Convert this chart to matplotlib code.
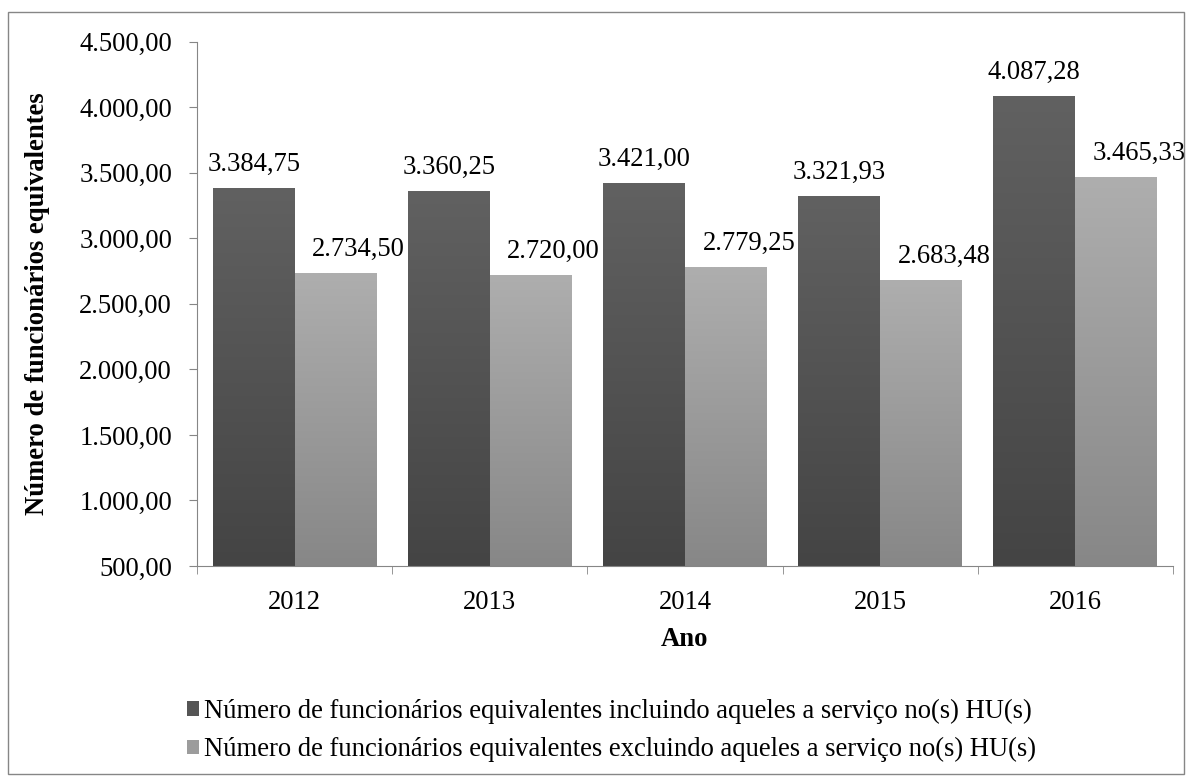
import matplotlib
import numpy as np

matplotlib.use("Agg")
import matplotlib.pyplot as plt  # noqa: E402
from matplotlib.colors import LinearSegmentedColormap  # noqa: E402
from matplotlib.patches import Patch, Rectangle  # noqa: E402
from matplotlib.ticker import FuncFormatter  # noqa: E402

anos = ["2012", "2013", "2014", "2015", "2016"]
incluindo_hu = [3384.75, 3360.25, 3421.00, 3321.93, 4087.28]
excluindo_hu = [2734.50, 2720.00, 2779.25, 2683.48, 3465.33]
nomes_series = [
    "Número de funcionários equivalentes incluindo aqueles a serviço no(s) HU(s)",
    "Número de funcionários equivalentes excluindo aqueles a serviço no(s) HU(s)",
]

Y_MIN, Y_MAX = 500, 4500
FS = 19.2
CINZA_EIXO = "#868686"

plt.rcParams["font.family"] = ["Liberation Serif", "DejaVu Serif"]


def br(v: float) -> str:
    """1234.5 -> '1.234,50'"""
    return f"{v:,.2f}".replace(",", "X").replace(".", ",").replace("X", ".")


def gradiente(ax, barras, topo: str, base: str) -> None:
    """Vertical fill from `base` (bottom) to `topo` (top), clipped to each bar."""
    cmap = LinearSegmentedColormap.from_list("g", [base, topo])
    grad = np.linspace(0, 1, 256).reshape(-1, 1)
    for b in barras:
        x0, w, h = b.get_x(), b.get_width(), b.get_height()
        y0 = max(b.get_y(), Y_MIN)
        im = ax.imshow(grad, cmap=cmap, extent=(x0, x0 + w, y0, h), origin="lower",
                       aspect="auto", zorder=b.get_zorder() + 0.1)
        im.set_clip_path(b)


fig = plt.figure(figsize=(11.92, 7.82), dpi=100)
ax = fig.add_axes([0.1653, 0.2762, 0.8187, 0.6705])

x = np.arange(len(anos))
w = 0.42
b1 = ax.bar(x - w / 2, incluindo_hu, w, color="#545454", zorder=2)
b2 = ax.bar(x + w / 2, excluindo_hu, w, color="#9b9b9b", zorder=2)
gradiente(ax, b1, "#616161", "#444444")
gradiente(ax, b2, "#aeaeae", "#878787")

for xi, v in zip(x, incluindo_hu):
    ax.annotate(br(v), (xi - w / 2, v), xytext=(0, 8), textcoords="offset points",
                ha="center", va="bottom", fontsize=FS)
for xi, v in zip(x, excluindo_hu):
    ax.annotate(br(v), (xi + w / 2, v), xytext=(16.5, 8), textcoords="offset points",
                ha="center", va="bottom", fontsize=FS)

ax.set_xlim(-0.5, len(anos) - 0.5)
ax.set_ylim(Y_MIN, Y_MAX)
ax.set_yticks(np.arange(Y_MIN, Y_MAX + 1, 500))
ax.yaxis.set_major_formatter(FuncFormatter(lambda v, _: br(v)))
ax.set_xticks(x, anos)
ax.set_xticks(np.arange(-0.5, len(anos), 1.0), minor=True)
ax.tick_params(axis="x", which="major", length=0, pad=17, labelsize=FS)
ax.tick_params(axis="x", which="minor", length=6, color=CINZA_EIXO)
ax.tick_params(axis="y", length=6, color=CINZA_EIXO, pad=12, labelsize=FS)

for s in ("top", "right"):
    ax.spines[s].set_visible(False)
for s in ("left", "bottom"):
    ax.spines[s].set_color(CINZA_EIXO)

ax.set_xlabel("Ano", fontsize=FS, fontweight="bold", labelpad=9)
ax.set_ylabel("Número de funcionários equivalentes", fontsize=FS, fontweight="bold", labelpad=21)

handles = [Patch(facecolor="#555555"), Patch(facecolor="#9c9c9c")]
fig.legend(handles, nomes_series, loc="upper left", bbox_to_anchor=(0.148, 0.12),
           frameon=False, fontsize=FS, handlelength=0.45, handleheight=0.45,
           handletextpad=0.2, labelspacing=0.5, borderaxespad=0)

fig.patches.append(Rectangle((8 / 1192, 8 / 782), 1176 / 1192, 762 / 782,
                             transform=fig.transFigure, fill=False,
                             edgecolor=CINZA_EIXO, linewidth=1))

fig.savefig("out.png", dpi=100)
